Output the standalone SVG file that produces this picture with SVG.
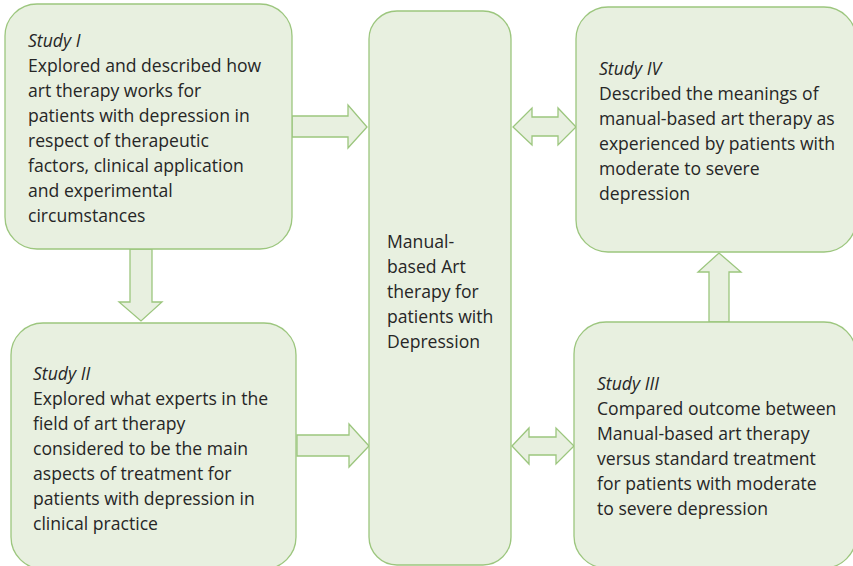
<svg xmlns="http://www.w3.org/2000/svg" width="853" height="566" viewBox="0 0 853 566">
<style>
.box{fill:#E8F0E0;stroke:#9CC67E;stroke-width:1.3}
.arr{fill:#E8F0E0;stroke:#9CC67E;stroke-width:1.3;stroke-linejoin:miter}
text{font-family:"Open Sans","Noto Sans","Liberation Sans",sans-serif;font-size:17.6px;fill:#262626}
.it{font-style:italic}
</style>
<rect width="853" height="566" fill="#FFFFFF"/>
<g id="connectors">
<polygon class="arr" points="292,116 348,116 348,105 367,127 348,148 348,137 292,137"/>
<polygon class="arr" points="130,249 152,249 152,302 162,302 141,321 119,302 130,302"/>
<polygon class="arr" points="297,435 349,435 349,424 369,446 349,467 349,456 297,456"/>
<polygon class="arr" points="709,322 709,272 698,272 719,253 741,272 729,272 729,322"/>
<polygon class="arr" points="513,127 532,108 532,117 558,117 558,108 576,127 558,145 558,136 532,136 532,145"/>
<polygon class="arr" points="512,446 529,428 529,437 556,437 556,428 574,446 556,464 556,455 529,455 529,464"/>
</g>
<g id="study1">
<rect class="box" x="5" y="4" width="287" height="245" rx="32" ry="32"/>
<text x="28" y="47"><tspan class="it">Study I</tspan><tspan x="28" dy="25">Explored and described how</tspan><tspan x="28" dy="25">art therapy works for</tspan><tspan x="28" dy="25">patients with depression in</tspan><tspan x="28" dy="25">respect of therapeutic</tspan><tspan x="28" dy="25">factors, clinical application</tspan><tspan x="28" dy="25">and experimental</tspan><tspan x="28" dy="25">circumstances</tspan></text>
</g>
<g id="center">
<rect class="box" x="369" y="11" width="142" height="554" rx="28" ry="28"/>
<text x="387" y="248"><tspan>Manual-</tspan><tspan x="387" dy="25">based Art</tspan><tspan x="387" dy="25">therapy for</tspan><tspan x="387" dy="25">patients with</tspan><tspan x="387" dy="25">Depression</tspan></text>
</g>
<g id="study2">
<rect class="box" x="11" y="323" width="285" height="246" rx="32" ry="32"/>
<text x="33" y="380"><tspan class="it">Study II</tspan><tspan x="33" dy="25">Explored what experts in the</tspan><tspan x="33" dy="25">field of art therapy</tspan><tspan x="33" dy="25">considered to be the main</tspan><tspan x="33" dy="25">aspects of treatment for</tspan><tspan x="33" dy="25">patients with depression in</tspan><tspan x="33" dy="25">clinical practice</tspan></text>
</g>
<g id="study4">
<rect class="box" x="576" y="7" width="280" height="245" rx="32" ry="32"/>
<text x="599" y="75"><tspan class="it">Study IV</tspan><tspan x="599" dy="25">Described the meanings of</tspan><tspan x="599" dy="25">manual-based art therapy as</tspan><tspan x="599" dy="25">experienced by patients with</tspan><tspan x="599" dy="25">moderate to severe</tspan><tspan x="599" dy="25">depression</tspan></text>
</g>
<g id="study3">
<rect class="box" x="574" y="322" width="282" height="246" rx="32" ry="32"/>
<text x="597" y="390"><tspan class="it">Study III</tspan><tspan x="597" dy="25">Compared outcome between</tspan><tspan x="597" dy="25">Manual-based art therapy</tspan><tspan x="597" dy="25">versus standard treatment</tspan><tspan x="597" dy="25">for patients with moderate</tspan><tspan x="597" dy="25">to severe depression</tspan></text>
</g>
</svg>
